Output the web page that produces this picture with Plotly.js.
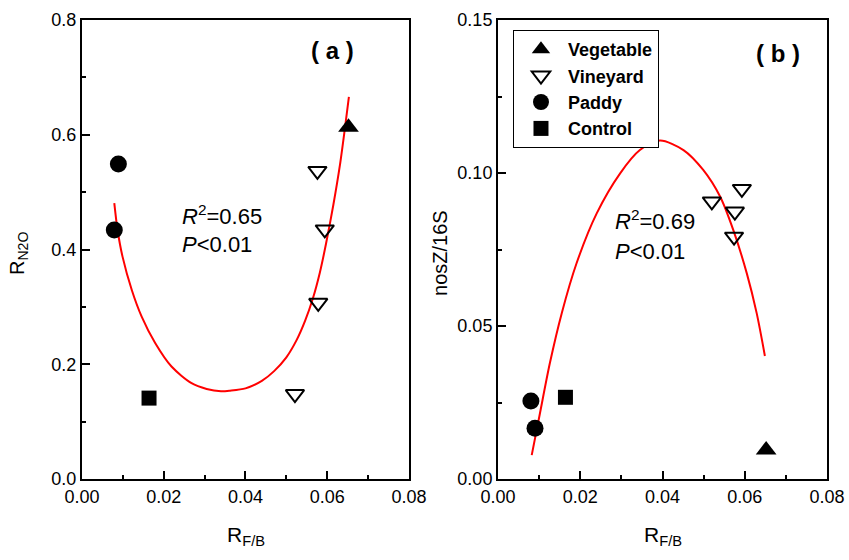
<!DOCTYPE html>
<html>
<head>
<meta charset="utf-8">
<script src="https://cdn.plot.ly/plotly-3.0.1.min.js"></script>
<style>html,body{margin:0;padding:0;background:#fff;}#chart{width:849px;height:560px;}</style>
</head>
<body>
<div id="chart"></div>
<script>
// ---- data ----
const vegX = [0.0652];
const vegA = [0.613];
const vegB = [0.0095];

const vinX = [0.0576, 0.0594, 0.0578, 0.0521];
const vinA = [0.537, 0.435, 0.307, 0.148];
const vinXb = [0.0576, 0.0593, 0.0574, 0.0520];
const vinB = [0.0874, 0.0948, 0.0792, 0.0907];

const padX = [0.0089, 0.0079];
const padA = [0.549, 0.434];
const padXb = [0.0090, 0.0080];
const padB = [0.0166, 0.0255];

const ctlX = [0.0164];
const ctlA = [0.141];
const ctlB = [0.0267];

// fitted curves
const fitAx = [0.0079, 0.0087, 0.0099, 0.0122, 0.0146, 0.0179, 0.0219, 0.0268, 0.0305, 0.0340, 0.0362, 0.0400, 0.0440, 0.0470, 0.0500, 0.0525, 0.0546, 0.0565, 0.0582, 0.0597, 0.0615, 0.0631, 0.0643, 0.0653];
const fitAy = [0.481, 0.434, 0.388, 0.329, 0.283, 0.237, 0.196, 0.167, 0.157, 0.153, 0.154, 0.158, 0.171, 0.188, 0.212, 0.242, 0.276, 0.315, 0.360, 0.410, 0.478, 0.547, 0.610, 0.666];
const fitBx = [0.0082, 0.0102, 0.0126, 0.0155, 0.0191, 0.0240, 0.0297, 0.0345, 0.0394, 0.0451, 0.0499, 0.0540, 0.0572, 0.0605, 0.0629, 0.0649];
const fitBy = [0.0078, 0.0215, 0.0378, 0.0542, 0.0705, 0.0868, 0.0999, 0.1075, 0.1106, 0.1075, 0.1010, 0.0923, 0.0814, 0.0672, 0.0542, 0.0402];

const xTicks = [0, 0.02, 0.04, 0.06, 0.08];
const yTicksA = [0, 0.2, 0.4, 0.6, 0.8];
const yTicksB = [0, 0.05, 0.10, 0.15];

const FONT = 'Arial, "Liberation Sans", sans-serif';
const BLACK = '#000000';

function mk(name, x, y, symbol, size, xa, ya, show, lw) {
  return {
    type: 'scatter', mode: 'markers', name: name, x: x, y: y,
    xaxis: xa, yaxis: ya, showlegend: show, legendgroup: name,
    marker: {symbol: symbol, size: size, color: BLACK, line: {color: BLACK, width: lw || 0}},
    hoverinfo: 'skip'
  };
}

const traces = [
  {type: 'scatter', mode: 'lines', x: fitAx, y: fitAy, xaxis: 'x', yaxis: 'y', showlegend: false,
   line: {color: '#ff0000', width: 2, shape: 'spline', smoothing: 0.8}, hoverinfo: 'skip'},
  {type: 'scatter', mode: 'lines', x: fitBx, y: fitBy, xaxis: 'x2', yaxis: 'y2', showlegend: false,
   line: {color: '#ff0000', width: 2, shape: 'spline', smoothing: 0.8}, hoverinfo: 'skip'},
  mk('Vegetable', vegX, vegA, 'triangle-up', 18, 'x', 'y', false),
  mk('Vineyard', vinX, vinA, 'triangle-down-open', 16, 'x', 'y', false, 2),
  mk('Paddy', padX, padA, 'circle', 17, 'x', 'y', false),
  mk('Control', ctlX, ctlA, 'square', 15, 'x', 'y', false),
  mk('Vegetable', vegX, vegB, 'triangle-up', 18, 'x2', 'y2', true),
  mk('Vineyard', vinXb, vinB, 'triangle-down-open', 16, 'x2', 'y2', true, 2),
  mk('Paddy', padXb, padB, 'circle', 17, 'x2', 'y2', true),
  mk('Control', ctlX, ctlB, 'square', 15, 'x2', 'y2', true)
];

function axis(extra) {
  return Object.assign({
    showgrid: false, zeroline: false, showline: true, linecolor: BLACK, linewidth: 2,
    mirror: true, ticks: 'inside', ticklen: 8, tickwidth: 2, tickcolor: BLACK,
    tickfont: {family: FONT, size: 18, color: BLACK},
    fixedrange: true
  }, extra);
}

const layout = {
  width: 849, height: 560,
  margin: {l: 82, r: 22, t: 20, b: 81},
  paper_bgcolor: '#ffffff', plot_bgcolor: '#ffffff',
  font: {family: FONT, color: BLACK},
  xaxis: axis({domain: [0, 0.4389], range: [0, 0.08], tickvals: xTicks, tickformat: '.2f', anchor: 'y',
    minor: {dtick: 0.01, ticks: 'inside', ticklen: 4, tickwidth: 2, tickcolor: BLACK}}),
  yaxis: axis({domain: [0, 1], range: [0, 0.8], tickvals: yTicksA, tickformat: '.1f', anchor: 'x',
    minor: {dtick: 0.1, ticks: 'inside', ticklen: 4, tickwidth: 2, tickcolor: BLACK}}),
  xaxis2: axis({domain: [0.5584, 1], range: [0, 0.08], tickvals: xTicks, tickformat: '.2f', anchor: 'y2',
    minor: {dtick: 0.01, ticks: 'inside', ticklen: 4, tickwidth: 2, tickcolor: BLACK}}),
  yaxis2: axis({domain: [0, 1], range: [0, 0.15], tickvals: yTicksB, tickformat: '.2f', anchor: 'x2',
    minor: {dtick: 0.025, ticks: 'inside', ticklen: 4, tickwidth: 2, tickcolor: BLACK}}),
  showlegend: true,
  legend: {
    x: 0.5785, y: 0.9782, xanchor: 'left', yanchor: 'top',
    bordercolor: BLACK, borderwidth: 1, bgcolor: '#ffffff',
    font: {family: FONT, size: 18, color: BLACK, weight: 'bold'},
    itemwidth: 44,
    tracegroupgap: 0, itemclick: false, itemdoubleclick: false
  },
  annotations: [
    {xref: 'x', yref: 'y', x: 0.0613, y: 0.746, text: '<b>( a )</b>', showarrow: false,
     font: {family: FONT, size: 24, color: BLACK}, xanchor: 'center', yanchor: 'middle'},
    {xref: 'x2', yref: 'y2', x: 0.0681, y: 0.1392, text: '<b>( b )</b>', showarrow: false,
     font: {family: FONT, size: 24, color: BLACK}, xanchor: 'center', yanchor: 'middle'},
    {xref: 'x', yref: 'y', x: 0.0240, y: 0.460, text: '<i>R</i><sup>2</sup>=0.65', showarrow: false,
     font: {family: FONT, size: 22, color: BLACK}, xanchor: 'left', yanchor: 'middle'},
    {xref: 'x', yref: 'y', x: 0.0240, y: 0.409, text: '<i>P</i>&lt;0.01', showarrow: false,
     font: {family: FONT, size: 22, color: BLACK}, xanchor: 'left', yanchor: 'middle'},
    {xref: 'x2', yref: 'y2', x: 0.0280, y: 0.0845, text: '<i>R</i><sup>2</sup>=0.69', showarrow: false,
     font: {family: FONT, size: 22, color: BLACK}, xanchor: 'left', yanchor: 'middle'},
    {xref: 'x2', yref: 'y2', x: 0.0280, y: 0.0743, text: '<i>P</i>&lt;0.01', showarrow: false,
     font: {family: FONT, size: 22, color: BLACK}, xanchor: 'left', yanchor: 'middle'},
    {xref: 'paper', yref: 'paper', x: 0.2195, y: -0.124, text: 'R<sub>F/B</sub>', showarrow: false,
     font: {family: FONT, size: 21, color: BLACK}, xanchor: 'center', yanchor: 'middle'},
    {xref: 'paper', yref: 'paper', x: 0.7792, y: -0.124, text: 'R<sub>F/B</sub>', showarrow: false,
     font: {family: FONT, size: 21, color: BLACK}, xanchor: 'center', yanchor: 'middle'},
    {xref: 'paper', yref: 'paper', x: -0.0846, y: 0.4924, text: 'R<sub>N2O</sub>', showarrow: false,
     textangle: -90, font: {family: FONT, size: 20, color: BLACK}, xanchor: 'center', yanchor: 'middle'},
    {xref: 'paper', yref: 'paper', x: 0.4805, y: 0.4924, text: 'nosZ/16S', showarrow: false,
     textangle: -90, font: {family: FONT, size: 20, color: BLACK}, xanchor: 'center', yanchor: 'middle'}
  ]
};

Plotly.newPlot('chart', traces, layout, {displayModeBar: false, staticPlot: true});
</script>
</body>
</html>
